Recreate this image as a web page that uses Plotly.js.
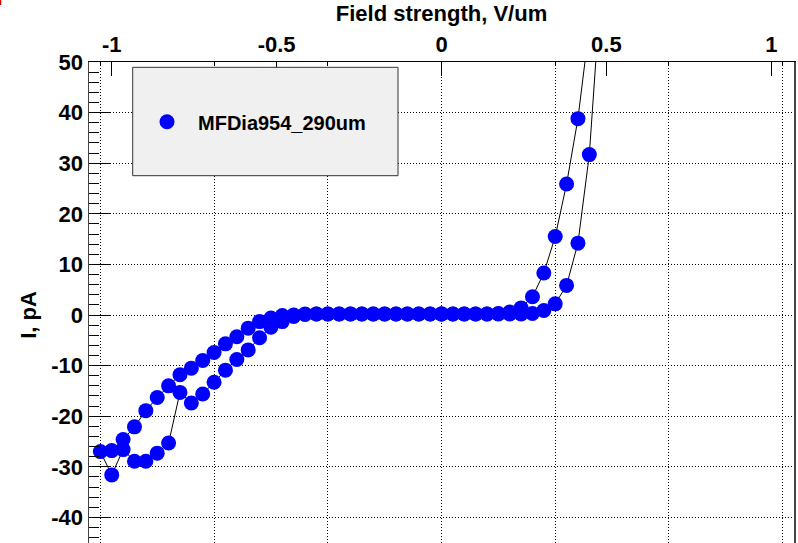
<!DOCTYPE html>
<html>
<head>
<meta charset="utf-8">
<script src="https://cdn.plot.ly/plotly-3.0.1.min.js"></script>
<style>
  html, body { margin: 0; padding: 0; overflow: hidden; background: #ffffff; }
  #chart { width: 798px; height: 640px; }
</style>
</head>
<body>
<div id="chart"></div>
<script>
// Sample thickness, used to convert bias voltage into field strength
const thicknessUm = 290;
const seriesName = 'MFDia954_290um';

// Sweep 1: 0 V up to +140 V
const sweepUpV = [0, 10, 20, 30, 40, 50, 60, 70, 80, 90, 100, 110, 120, 130, 140];
const sweepUpI = [0.2, 0.2, 0.2, 0.2, 0.2, 0.3, 0.6, 1.4, 3.6, 8.3, 15.5, 25.9, 38.8, 57, 64];

// Sweep 2: +130 V back down to 0 V
const sweepBackV = [130, 120, 110, 100, 90, 80, 70, 60, 50, 40, 30, 20, 10, 0];
const sweepBackI = [31.7, 14.2, 5.85, 2.2, 0.9, 0.3, 0.2, 0.2, 0.2, 0.2, 0.2, 0.2, 0.2, 0.2];

// Sweep 3: 0 V down to -300 V
const sweepDownV = [-10, -20, -30, -40, -50, -60, -70, -80, -90, -100, -110, -120, -130, -140, -150,
                    -160, -170, -180, -190, -200, -210, -220, -230, -240, -250, -260, -270, -280, -290, -300];
const sweepDownI = [0.2, 0.2, 0.2, 0.2, 0.2, 0.2, 0.2, 0.2, 0.2, 0.2, 0.2, 0.1, -0.3, -1.3, -2.4,
                    -4.5, -6.9, -8.8, -10.9, -13.3, -15.6, -17.4, -15.3, -25.3, -27.3, -28.9, -28.9, -26.6, -31.6, -27.0];

// Sweep 4: -290 V back to 0 V
const sweepReturnV = [-290, -280, -270, -260, -250, -240, -230, -220, -210, -200, -190, -180, -170, -160, -150,
                      -140, -130, -120, -110, -100, -90, -80, -70, -60, -50, -40, -30, -20, -10, 0];
const sweepReturnI = [-26.8, -24.6, -22.1, -18.9, -16.3, -14.0, -11.8, -10.5, -9.0, -7.4, -5.7, -4.3, -2.6, -1.3, -0.6,
                      -0.1, 0.0, 0.2, 0.2, 0.2, 0.2, 0.2, 0.2, 0.2, 0.2, 0.2, 0.2, 0.2, 0.2, 0.2];

// Axis ticks
const fieldTickVals = [-1, -0.5, 0, 0.5, 1];
const fieldTickText = ['-1', '-0.5', '0', '0.5', '1'];
const currentTickVals = [-40, -30, -20, -10, 0, 10, 20, 30, 40, 50];
const currentTickText = ['-40', '-30', '-20', '-10', '0', '10', '20', '30', '40', '50'];
const voltRange = [-310, 310];
const currentRange = [-50, 50];

const voltage = [].concat(sweepUpV, sweepBackV, sweepDownV, sweepReturnV);
const current = [].concat(sweepUpI, sweepBackI, sweepDownI, sweepReturnI);

const boldFont = (size) => ({ family: 'Liberation Sans, Arial, Helvetica, sans-serif', size: size, color: '#000000', weight: 700 });

// Thin connecting line following the sweep order
const sweepLine = {
  type: 'scatter', mode: 'lines', x: voltage, y: current,
  line: { color: '#000000', width: 1 },
  showlegend: false, hoverinfo: 'skip'
};

// Measured points on top of the line
const sweepPoints = {
  type: 'scatter', mode: 'markers', name: seriesName, x: voltage, y: current,
  marker: { color: '#0000ff', size: 15, line: { width: 0 } },
  showlegend: true
};

// Empty trace that only carries the field-strength axis on top
const fieldAxisCarrier = {
  type: 'scatter', mode: 'none', x: [], y: [], xaxis: 'x2', yaxis: 'y',
  showlegend: false, hoverinfo: 'skip'
};

const W = 705, H = 506; // plot area in px
const px = (x) => (x - 89) / W;
const py = (y) => (568 - y) / H;

const layout = {
  width: 798,
  height: 640,
  margin: { l: 89, r: 4, t: 62, b: 72, pad: 0 },
  paper_bgcolor: '#ffffff',
  plot_bgcolor: '#ffffff',
  showlegend: true,
  xaxis: {
    range: voltRange,
    dtick: 100,
    tick0: 0,
    showgrid: true,
    gridcolor: '#000000',
    gridwidth: 1,
    griddash: '1px,2px',
    zeroline: false,
    showline: true,
    linecolor: '#000000',
    linewidth: 1,
    mirror: 'ticks',
    ticks: 'inside',
    ticklen: 4,
    tickcolor: '#000000',
    showticklabels: false
  },
  xaxis2: {
    overlaying: 'x',
    side: 'top',
    anchor: 'y',
    range: [voltRange[0] / thicknessUm, voltRange[1] / thicknessUm],
    tickmode: 'array',
    tickvals: fieldTickVals,
    ticktext: fieldTickText,
    showgrid: false,
    zeroline: false,
    showline: true,
    linecolor: '#000000',
    ticks: 'inside',
    ticklen: 14,
    tickcolor: '#000000',
    tickfont: boldFont(22),
    title: { text: 'Field strength, V/um', font: boldFont(22), standoff: 4 }
  },
  yaxis: {
    range: currentRange,
    tickmode: 'array',
    tickvals: currentTickVals,
    ticktext: currentTickText,
    showgrid: true,
    gridcolor: '#000000',
    gridwidth: 1,
    griddash: '1px,2px',
    zeroline: false,
    showline: true,
    linecolor: '#444444',
    linewidth: 1.5,
    mirror: true,
    ticks: 'inside',
    ticklen: 21,
    tickcolor: '#000000',
    minor: { dtick: 2, tick0: 0, ticks: 'inside', ticklen: 10, tickcolor: '#000000', showgrid: false },
    tickfont: boldFont(22),
    title: { text: 'I, pA', font: boldFont(22), standoff: 8 }
  },
  legend: {
    x: px(136), y: py(121.7), xanchor: 'left', yanchor: 'middle',
    bgcolor: 'rgba(0,0,0,0)', borderwidth: 0,
    font: boldFont(20),
    itemwidth: 52,
    itemsizing: 'trace'
  },
  shapes: [
    { type: 'rect', xref: 'paper', yref: 'paper', layer: 'above',
      x0: px(132.7), x1: px(398), y0: py(175.7), y1: py(67.3),
      fillcolor: '#f0f0f0', line: { color: '#333333', width: 1 } },
    { type: 'rect', xref: 'paper', yref: 'paper', layer: 'above',
      x0: px(0), x1: px(1.2), y0: py(5), y1: py(0),
      fillcolor: '#cc0000', line: { width: 0 } }
  ]
};

Plotly.newPlot('chart', [sweepLine, sweepPoints, fieldAxisCarrier], layout, { displayModeBar: false, staticPlot: true });
</script>
</body>
</html>
